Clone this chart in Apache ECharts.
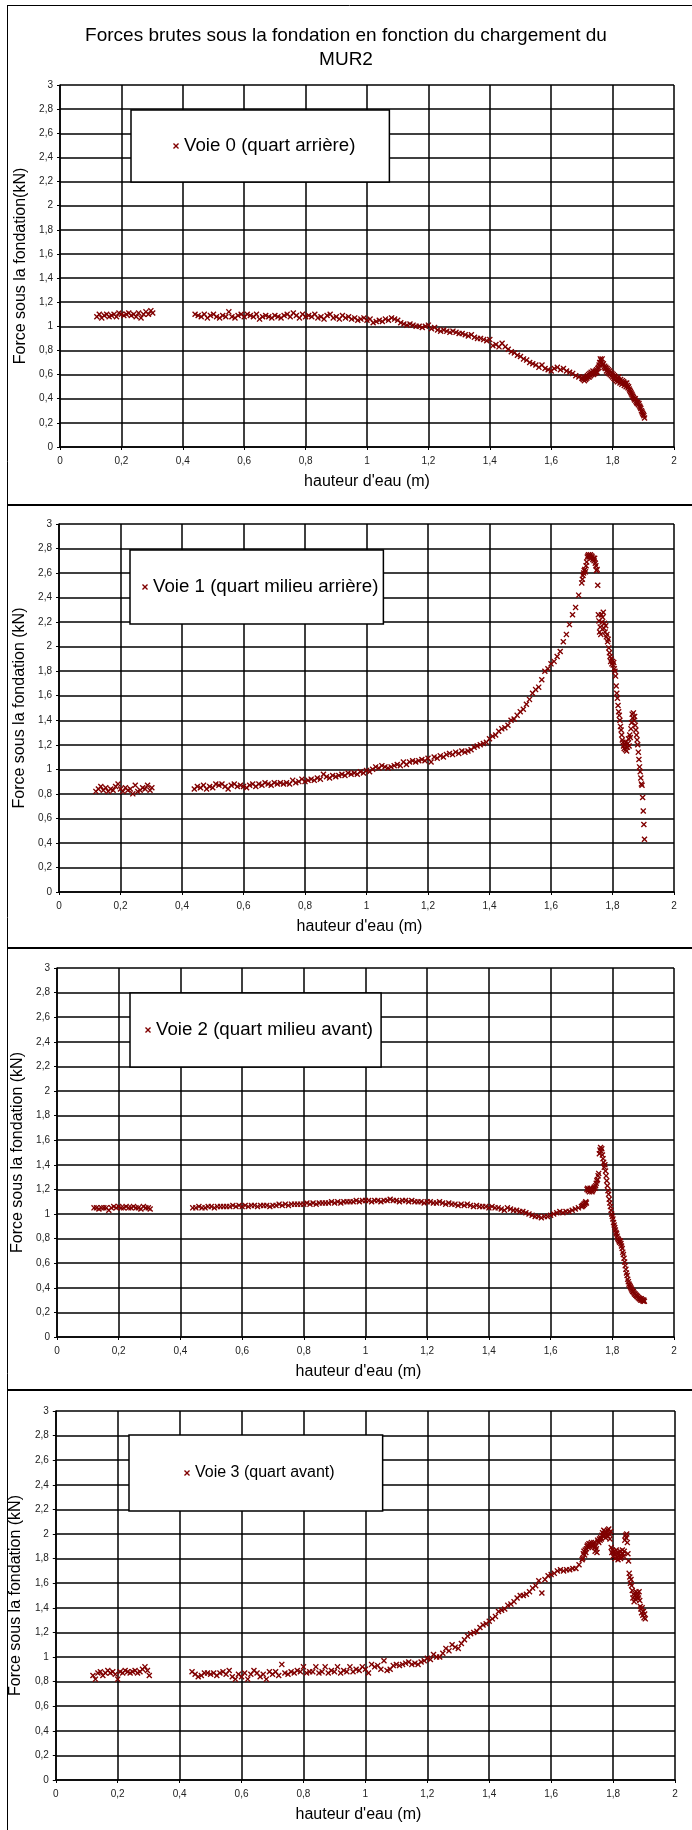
<!DOCTYPE html>
<html>
<head>
<meta charset="utf-8">
<script src="https://cdn.jsdelivr.net/npm/echarts@6/dist/echarts.min.js"></script>
<style>
  html, body { margin: 0; padding: 0; background: #fff; }
  #chart { width: 692px; height: 1830px; }
</style>
</head>
<body>
<div id="chart"></div>
<script>
// Water height (m), shared by the four load cells
const hauteur = [
  0.12,0.128,0.136,0.144,0.152,0.16,0.168,0.176,0.184,0.192,0.2,0.208,0.216,0.224,0.232,0.24,0.248,0.256,0.264,0.272,0.28,0.288,0.296,0.302,
  0.44,0.45,0.46,0.47,0.48,0.49,0.5,0.51,0.52,0.53,
  0.54,0.55,0.56,0.57,0.58,0.59,0.6,0.61,0.62,0.63,
  0.64,0.65,0.66,0.67,0.68,0.69,0.7,0.71,0.72,0.73,
  0.74,0.75,0.76,0.77,0.78,0.79,0.8,0.81,0.82,0.83,
  0.84,0.85,0.86,0.87,0.88,0.89,0.9,0.91,0.92,0.93,
  0.94,0.95,0.96,0.97,0.98,0.99,1,1.01,1.02,1.03,
  1.04,1.05,1.06,1.07,1.08,1.09,1.1,1.11,1.12,1.13,
  1.14,1.15,1.16,1.17,1.18,1.19,1.2,1.21,1.22,1.23,
  1.24,1.25,1.26,1.27,1.28,1.29,1.3,1.31,1.32,1.33,
  1.34,1.35,1.36,1.37,1.38,1.39,1.4,1.41,1.42,1.43,
  1.44,1.45,1.46,1.47,1.48,1.49,1.5,1.51,1.52,1.53,
  1.54,1.55,1.56,1.57,1.58,1.59,1.6,1.61,1.62,1.63,
  1.64,1.65,1.66,1.67,1.68,1.69,1.7,
  1.702,1.704,1.706,1.708,1.71,1.712,1.714,1.716,1.718,1.72,
  1.722,1.724,1.726,1.728,1.73,1.732,1.734,1.736,1.738,1.74,
  1.742,1.744,1.746,1.748,1.75,1.752,1.754,1.756,1.758,1.76,
  1.762,1.764,1.766,1.768,1.77,1.772,1.774,1.776,1.778,1.78,
  1.782,1.784,1.786,1.788,1.79,1.792,1.794,1.796,1.798,1.8,
  1.802,1.804,1.806,1.808,1.81,1.812,1.814,1.816,1.818,1.82,
  1.822,1.824,1.826,1.828,1.83,1.832,1.834,1.836,1.838,1.84,
  1.842,1.844,1.846,1.848,1.85,1.852,1.854,1.856,1.858,1.86,
  1.862,1.864,1.866,1.868,1.87,1.872,1.874,1.876,1.878,1.88,
  1.882,1.884,1.886,1.888,1.89,1.892,1.894,1.896,1.898,1.9,
  1.902,1.904
];

// Force under the foundation (kN), one array per channel
const voie0 = [
  1.08,1.10,1.07,1.09,1.10,1.08,1.09,1.10,1.08,1.11,1.10,1.09,1.10,1.11,1.09,1.10,1.08,1.11,1.07,1.10,1.12,1.10,1.13,1.11,
  1.10,1.09,1.08,1.10,1.07,1.09,1.10,1.08,1.07,1.09,
  1.08,1.12,1.08,1.07,1.09,1.10,1.08,1.10,1.09,1.08,
  1.10,1.06,1.08,1.09,1.08,1.07,1.09,1.08,1.07,1.09,
  1.10,1.08,1.11,1.09,1.07,1.10,1.08,1.09,1.08,1.10,
  1.07,1.08,1.06,1.09,1.10,1.07,1.08,1.06,1.09,1.07,
  1.08,1.06,1.07,1.05,1.06,1.07,1.05,1.06,1.03,1.04,
  1.05,1.04,1.06,1.05,1.07,1.06,1.05,1.03,1.02,1.01,
  1.02,1.01,1.00,1.00,0.99,1.00,1.01,0.98,0.99,0.97,
  0.96,0.97,0.96,0.95,0.96,0.95,0.94,0.94,0.93,0.92,
  0.93,0.91,0.90,0.90,0.89,0.88,0.89,0.84,0.85,0.83,
  0.86,0.83,0.81,0.79,0.78,0.76,0.75,0.73,0.72,0.70,
  0.69,0.68,0.66,0.68,0.65,0.64,0.63,0.65,0.66,0.64,
  0.65,0.63,0.62,0.61,0.59,0.58,0.57,
  0.57,0.56,0.58,0.55,0.57,0.56,0.58,0.57,0.59,0.58,
  0.60,0.58,0.61,0.59,0.62,0.60,0.61,0.63,0.60,0.62,
  0.61,0.63,0.62,0.64,0.62,0.65,0.66,0.68,0.70,0.73,
  0.72,0.70,0.73,0.68,0.69,0.66,0.67,0.65,0.66,0.63,
  0.65,0.62,0.64,0.61,0.63,0.60,0.62,0.59,0.61,0.58,
  0.60,0.57,0.59,0.56,0.58,0.55,0.57,0.54,0.56,0.58,
  0.55,0.53,0.56,0.54,0.52,0.55,0.53,0.54,0.51,0.53,
  0.52,0.50,0.53,0.51,0.49,0.50,0.48,0.47,0.46,0.45,
  0.44,0.43,0.42,0.41,0.40,0.39,0.40,0.38,0.37,0.36,
  0.37,0.35,0.36,0.34,0.33,0.32,0.30,0.29,0.28,0.27,
  0.26,0.24
];

const voie1 = [
  0.82,0.84,0.86,0.83,0.85,0.82,0.84,0.83,0.86,0.88,0.84,0.82,0.85,0.83,0.84,0.80,0.87,0.82,0.83,0.85,0.84,0.87,0.83,0.85,
  0.84,0.86,0.85,0.87,0.84,0.86,0.85,0.88,0.87,0.88,
  0.86,0.84,0.87,0.88,0.86,0.87,0.86,0.85,0.87,0.88,
  0.86,0.88,0.87,0.89,0.88,0.87,0.89,0.88,0.89,0.88,
  0.89,0.88,0.91,0.89,0.90,0.92,0.90,0.91,0.92,0.91,
  0.93,0.92,0.96,0.94,0.93,0.95,0.94,0.95,0.96,0.95,
  0.97,0.96,0.97,0.96,0.98,0.97,0.99,0.98,1.00,1.02,
  1.01,1.03,1.02,1.01,1.02,1.03,1.04,1.03,1.06,1.04,
  1.06,1.07,1.06,1.07,1.08,1.07,1.09,1.06,1.10,1.09,
  1.11,1.10,1.12,1.13,1.12,1.14,1.13,1.15,1.14,1.15,
  1.16,1.18,1.19,1.20,1.21,1.22,1.25,1.27,1.28,1.31,
  1.33,1.34,1.36,1.40,1.41,1.44,1.47,1.49,1.53,1.57,
  1.62,1.65,1.67,1.73,1.80,1.82,1.86,1.88,1.92,1.96,
  2.04,2.10,2.18,2.26,2.32,2.42,2.52,
  2.55,2.58,2.60,2.62,2.63,2.61,2.66,2.69,2.73,2.74,
  2.75,2.73,2.74,2.75,2.72,2.74,2.73,2.71,2.72,2.70,
  2.72,2.68,2.66,2.62,2.63,2.50,2.26,2.21,2.12,2.16,
  2.10,2.26,2.20,2.24,2.28,2.15,2.19,2.12,2.17,2.08,
  2.10,2.04,2.06,1.99,1.95,1.92,1.88,1.90,1.86,1.88,
  1.85,1.87,1.82,1.80,1.76,1.68,1.62,1.58,1.52,1.47,
  1.44,1.40,1.35,1.32,1.28,1.24,1.22,1.19,1.17,1.20,
  1.16,1.22,1.15,1.18,1.21,1.25,1.19,1.28,1.26,1.33,
  1.38,1.45,1.42,1.46,1.40,1.43,1.36,1.32,1.28,1.24,
  1.20,1.14,1.08,1.02,0.98,0.93,0.88,0.87,0.77,0.66,
  0.55,0.43
];

const voie2 = [
  1.05,1.05,1.04,1.05,1.05,1.05,1.03,1.05,1.06,1.05,1.06,1.05,1.05,1.06,1.05,1.05,1.06,1.05,1.05,1.04,1.06,1.05,1.05,1.04,
  1.05,1.05,1.06,1.05,1.05,1.06,1.06,1.05,1.06,1.06,
  1.06,1.06,1.06,1.07,1.06,1.07,1.06,1.07,1.06,1.07,
  1.07,1.06,1.07,1.07,1.07,1.06,1.07,1.07,1.08,1.07,
  1.08,1.07,1.08,1.08,1.08,1.08,1.08,1.09,1.08,1.09,
  1.08,1.09,1.09,1.09,1.09,1.10,1.09,1.10,1.09,1.10,
  1.10,1.10,1.10,1.11,1.10,1.11,1.11,1.11,1.10,1.11,
  1.11,1.10,1.11,1.11,1.12,1.11,1.11,1.10,1.11,1.11,
  1.10,1.11,1.10,1.10,1.10,1.09,1.10,1.10,1.09,1.09,
  1.10,1.09,1.08,1.09,1.08,1.08,1.07,1.08,1.07,1.08,
  1.07,1.06,1.07,1.06,1.06,1.06,1.05,1.06,1.05,1.05,
  1.04,1.03,1.05,1.04,1.03,1.03,1.02,1.02,1.01,1.00,
  0.99,0.98,0.98,0.97,0.98,0.98,0.99,1.00,1.01,1.02,
  1.01,1.02,1.02,1.03,1.04,1.05,1.06,
  1.06,1.07,1.07,1.08,1.08,1.09,1.10,1.09,1.20,1.21,
  1.19,1.20,1.18,1.21,1.19,1.20,1.18,1.19,1.20,1.21,
  1.22,1.21,1.23,1.25,1.27,1.28,1.31,1.33,1.49,1.52,
  1.54,1.51,1.53,1.48,1.45,1.42,1.38,1.40,1.35,1.31,
  1.27,1.23,1.19,1.16,1.12,1.09,1.06,1.03,1.00,0.98,
  0.96,0.93,0.91,0.89,0.87,0.85,0.84,0.82,0.80,0.79,
  0.78,0.77,0.78,0.76,0.74,0.72,0.69,0.67,0.64,0.61,
  0.58,0.55,0.52,0.50,0.47,0.45,0.43,0.42,0.41,0.40,
  0.39,0.38,0.37,0.37,0.36,0.35,0.35,0.34,0.34,0.33,
  0.33,0.32,0.32,0.31,0.31,0.30,0.31,0.30,0.30,0.29,
  0.30,0.29
];

const voie3 = [
  0.85,0.82,0.87,0.88,0.85,0.87,0.89,0.87,0.88,0.86,0.82,0.88,0.87,0.89,0.88,0.87,0.88,0.89,0.87,0.88,0.90,0.92,0.89,0.85,
  0.88,0.86,0.84,0.85,0.87,0.87,0.86,0.87,0.85,0.87,
  0.88,0.86,0.89,0.84,0.82,0.86,0.84,0.87,0.82,0.86,
  0.89,0.87,0.84,0.86,0.82,0.88,0.86,0.88,0.85,0.94,
  0.87,0.86,0.88,0.87,0.89,0.88,0.92,0.87,0.88,0.88,
  0.92,0.87,0.88,0.92,0.87,0.89,0.88,0.92,0.87,0.89,
  0.88,0.92,0.88,0.90,0.89,0.92,0.90,0.87,0.94,0.92,
  0.93,0.90,0.97,0.89,0.90,0.93,0.94,0.93,0.94,0.95,
  0.96,0.94,0.95,0.94,0.96,0.97,0.99,0.98,1.02,1.00,
  1.00,1.03,1.07,1.05,1.10,1.08,1.07,1.11,1.14,1.17,
  1.19,1.20,1.21,1.24,1.26,1.27,1.29,1.31,1.33,1.37,
  1.38,1.39,1.42,1.43,1.45,1.48,1.50,1.50,1.51,1.53,
  1.56,1.58,1.62,1.52,1.63,1.66,1.67,1.68,1.70,1.71,
  1.70,1.71,1.71,1.72,1.72,1.75,1.79,
  1.80,1.84,1.86,1.83,1.87,1.85,1.88,1.90,1.91,1.89,
  1.92,1.90,1.92,1.91,1.93,1.90,1.92,1.91,1.93,1.89,
  1.86,1.90,1.88,1.85,1.95,1.94,1.93,1.96,1.95,1.97,
  1.96,1.99,2.01,1.98,2.03,2.00,2.02,1.97,2.01,1.99,
  2.03,1.98,2.04,2.00,1.96,2.02,1.89,1.85,1.87,1.82,
  1.86,1.84,1.80,1.83,1.87,1.81,1.85,1.79,1.84,1.82,
  1.86,1.80,1.83,1.81,1.87,1.84,1.82,1.86,1.95,1.99,
  1.97,2.00,1.93,1.84,1.78,1.68,1.65,1.60,1.63,1.58,
  1.54,1.48,1.51,1.45,1.50,1.47,1.53,1.49,1.52,1.50,
  1.48,1.53,1.46,1.41,1.39,1.36,1.40,1.34,1.37,1.32,
  1.35,1.31
];

const channels = [voie0, voie1, voie2, voie3];
const seriesNames = [
  'Voie 0 (quart arrière)',
  'Voie 1 (quart milieu arrière)',
  'Voie 2 (quart milieu avant)',
  'Voie 3 (quart avant)'
];
const yTitles = [
  'Force sous la fondation(kN)',
  'Force sous la fondation (kN)',
  'Force sous la fondation (kN)',
  'Force sous la fondation (kN)'
];
const xTitle = "hauteur d'eau (m)";
const mainTitle = 'Forces brutes sous la fondation en fonction du chargement du\nMUR2';

// ---- layout of the four stacked panels ----
const FONT = '"Liberation Sans", Arial, Helvetica, sans-serif';
const RED = '#800000';
const CROSS = 'path://M0,1.6L1.6,0L5,3.4L8.4,0L10,1.6L6.6,5L10,8.4L8.4,10L5,6.6L1.6,10L0,8.4L3.4,5Z';
const LINE_W = 1.5;

const grids = [
  { left: 60, top: 85,   width: 614, height: 362 },
  { left: 59, top: 524,  width: 615, height: 368 },
  { left: 57, top: 968,  width: 617, height: 369 },
  { left: 53, top: 1411, width: 622, height: 369 }
];
const xNameGap = [27, 27, 27, 27];
const yNameGap = [26, 25, 25, 21];
const xNamePad = [[0,0,0,0], [0,14,0,0], [0,14,0,0], [0,14,0,0]];

const legendBoxes = [
  { left: 131, top: 110,  padding: [26, 34, 26, 42], fontSize: 18.7 },
  { left: 130, top: 550,  padding: [27, 5, 27, 12],  fontSize: 18.7 },
  { left: 130, top: 993,  padding: [27, 8, 27, 15],  fontSize: 18.7 },
  { left: 129, top: 1435, padding: [28, 48, 28, 55], fontSize: 16 }
];

const fmt = v => String(Math.round(v * 10) / 10).replace('.', ',');

const xAxes = grids.map((g, i) => ({
  gridIndex: i, type: 'value', min: 0, max: 2, interval: 0.2,
  axisLine: { onZero: false, lineStyle: { color: '#000', width: LINE_W } },
  axisTick: { show: true, length: 3, lineStyle: { color: '#000' } },
  axisLabel: { fontSize: 10, color: '#222', margin: 9, fontFamily: FONT, formatter: fmt },
  splitLine: { show: true, lineStyle: { color: '#000', width: LINE_W } },
  name: xTitle, nameLocation: 'middle', nameGap: xNameGap[i],
  nameTextStyle: { fontSize: 16, color: '#000', fontFamily: FONT, padding: xNamePad[i] }
}));

const yAxes = grids.map((g, i) => ({
  gridIndex: i, type: 'value', min: 0, max: 3, interval: 0.2,
  axisLine: { onZero: false, lineStyle: { color: '#000', width: LINE_W } },
  axisTick: { show: true, length: 3, lineStyle: { color: '#000' } },
  axisLabel: { fontSize: 10, color: '#222', margin: 7, fontFamily: FONT, formatter: fmt },
  splitLine: { show: true, lineStyle: { color: '#000', width: LINE_W } },
  name: yTitles[i], nameLocation: 'middle', nameGap: yNameGap[i],
  nameTextStyle: { fontSize: 16, color: '#000', fontFamily: FONT }
}));

const series = channels.map((vals, i) => ({
  name: seriesNames[i],
  type: 'scatter',
  xAxisIndex: i, yAxisIndex: i,
  symbol: CROSS, symbolSize: 6,
  itemStyle: { color: RED, opacity: 1 },
  emphasis: { disabled: true },
  data: hauteur.map((h, k) => [h, vals[k]])
}));

const legends = legendBoxes.map((b, i) => ({
  data: [seriesNames[i]],
  left: b.left, top: b.top, padding: b.padding,
  orient: 'horizontal',
  backgroundColor: '#fff', borderColor: '#000', borderWidth: 1.5,
  icon: CROSS, itemWidth: 6, itemHeight: 6,
  itemStyle: { color: RED },
  textStyle: { fontSize: b.fontSize, color: '#000', fontFamily: FONT, lineHeight: 20 },
  selectedMode: false
}));

// panel frames
const frameLine = (x1, y1, x2, y2, w) => ({
  type: 'line', silent: true, z: 100,
  shape: { x1, y1, x2, y2 },
  style: { stroke: '#000', lineWidth: w }
});

const chart = echarts.init(document.getElementById('chart'), null, { renderer: 'canvas' });
chart.setOption({
  animation: false,
  backgroundColor: '#fff',
  title: {
    text: mainTitle, left: 'center', top: 24, padding: 0,
    textStyle: { fontSize: 19, fontWeight: 'normal', color: '#000', fontFamily: FONT, lineHeight: 24 }
  },
  grid: grids,
  xAxis: xAxes,
  yAxis: yAxes,
  legend: legends,
  series: series,
  graphic: [
    frameLine(7.5, 5, 7.5, 1830, 1),
    frameLine(7, 5.5, 692, 5.5, 1),
    frameLine(7, 505, 692, 505, 2),
    frameLine(7, 948, 692, 948, 2),
    frameLine(7, 1390, 692, 1390, 2)
  ]
});
</script>
</body>
</html>
